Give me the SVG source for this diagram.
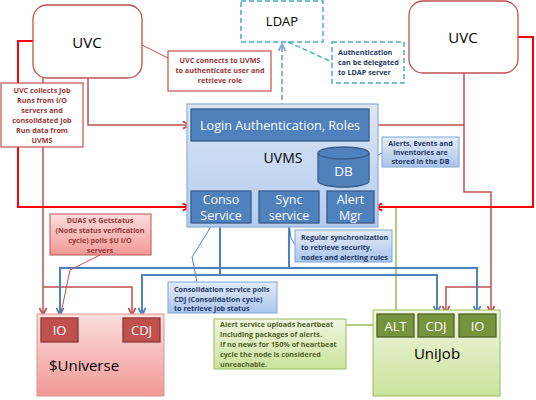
<svg xmlns="http://www.w3.org/2000/svg" width="536" height="400" viewBox="0 0 536 400">
<defs>
<linearGradient id="gUvms" x1="0" y1="0" x2="0" y2="1"><stop offset="0" stop-color="#dce6f4"/><stop offset="1" stop-color="#b3cbee"/></linearGradient>
<linearGradient id="gBlueNote" x1="0" y1="0" x2="0" y2="1"><stop offset="0" stop-color="#e3ecf8"/><stop offset="1" stop-color="#a9c4ec"/></linearGradient>
<linearGradient id="gPink" x1="0" y1="0" x2="0" y2="1"><stop offset="0" stop-color="#fbdedd"/><stop offset="1" stop-color="#f29896"/></linearGradient>
<linearGradient id="gGreen" x1="0" y1="0" x2="0" y2="1"><stop offset="0" stop-color="#f0f6e2"/><stop offset="1" stop-color="#cbe39b"/></linearGradient>
<marker id="aBright" viewBox="0 0 10 10" refX="9" refY="5" markerWidth="9" markerHeight="9" orient="auto" markerUnits="userSpaceOnUse"><path d="M1,1 L9,5 L1,9" fill="none" stroke="#ff0000" stroke-width="2"/></marker>
<marker id="aRed2" viewBox="0 0 10 10" refX="9" refY="5" markerWidth="9" markerHeight="9" orient="auto" markerUnits="userSpaceOnUse"><path d="M1,1 L9,5 L1,9" fill="none" stroke="#c0504d" stroke-width="2"/></marker>
<marker id="aBlue" viewBox="0 0 10 10" refX="9" refY="5" markerWidth="9" markerHeight="9" orient="auto" markerUnits="userSpaceOnUse"><path d="M1,1 L9,5 L1,9" fill="none" stroke="#4f81bd" stroke-width="2"/></marker>
<marker id="aDash" viewBox="0 0 10 10" refX="9" refY="5" markerWidth="9" markerHeight="9" orient="auto" markerUnits="userSpaceOnUse"><path d="M1,1 L9,5 L1,9" fill="none" stroke="#7ea6d8" stroke-width="2"/></marker>
</defs>
<style>
text{font-family:"Open Sans","Liberation Sans",sans-serif}
.uvc{fill:#fff;stroke:#c0504d;stroke-width:1.3}
.big{font-size:15px;fill:#000;text-anchor:middle}
.svc{fill:#4f81bd;stroke:#385d8a;stroke-width:1.3}
.svt{font-size:13.5px;fill:#fff;text-anchor:middle}
.sv2{font-size:12.5px;fill:#fff;text-anchor:middle}
.redNote{fill:#fff;stroke:#c0504d;stroke-width:1.2}
.rnt{font-size:7.2px;font-weight:bold;fill:#953735;text-anchor:middle}
.bnote{fill:url(#gBlueNote);stroke:#7ea6d8;stroke-width:1}
.bnt{font-size:7.2px;font-weight:bold;fill:#1f3864}
.gnt{font-size:7.2px;font-weight:bold;fill:#4f6228}
.conRed{fill:none;stroke:#c0504d;stroke-width:1.5}
.conBright{fill:none;stroke:#ff0000;stroke-width:2}
.conBlue{fill:none;stroke:#4f81bd;stroke-width:2}
.conGreen{fill:none;stroke:#9bbb59;stroke-width:1.5}
.thinBlue{fill:none;stroke:#4f81bd;stroke-width:1}
.thinRed{fill:none;stroke:#c0504d;stroke-width:1}
.dash{fill:none;stroke:#4bacc6;stroke-width:1.5;stroke-dasharray:5,3}
.ubox{fill:#c0504d;stroke:#8c3836;stroke-width:1.3}
.jbox{fill:#77933c;stroke:#4f6228;stroke-width:1.3}
.boxt{font-size:13px;fill:#fff;text-anchor:middle}
</style>

<g id="connectors">
  <path class="conRed" d="M88,78 V125 H190" marker-end="url(#aRed2)"/>
  <path class="conRed" d="M464,73 V125 H370" marker-end="url(#aRed2)"/>
  <path class="conRed" d="M464,125 V192 H491 V313" marker-end="url(#aRed2)"/>
  <path class="conRed" d="M491,287 H446 V313" marker-end="url(#aRed2)"/>
  <path class="conRed" d="M43,78 V315" marker-end="url(#aRed2)"/>
  <path class="conRed" d="M43,287 H132 V315" marker-end="url(#aRed2)"/>
  <path class="conBright" d="M33,41 H18 V207 H190" marker-end="url(#aBright)"/>
  <path class="conBright" d="M518,37 H533 V207 H375" marker-end="url(#aBright)"/>
  <path class="conGreen" d="M396,208 V314"/>
  <path class="conGreen" d="M346,325 H377"/>
  <path class="conBlue" d="M289,223 V268 H60 V315" marker-end="url(#aBlue)"/>
  <path class="conBlue" d="M289,268 H477 V313" marker-end="url(#aBlue)"/>
  <path class="conBlue" d="M220,223 V275 H142 V315" marker-end="url(#aBlue)"/>
  <path class="conBlue" d="M220,275 H437 V313" marker-end="url(#aBlue)"/>
  <path fill="none" stroke="#7ea6d8" stroke-width="1.8" stroke-dasharray="5,3" d="M282,108 V44" marker-end="url(#aDash)"/>
  <path class="dash" d="M288,42 L332,62"/>
  <path class="thinRed" d="M142,45 L168,58"/>
  <path class="thinRed" d="M100,255 L70,270 L61,313"/>
  <path class="thinBlue" d="M212,225 L192,257 L197,282"/>
  <path class="thinBlue" d="M289,223 L291,238 L295,245"/>
  <path class="thinBlue" d="M369,160 L382,153"/>
</g>

<g id="uvc-left">
  <rect class="uvc" x="33" y="5" width="109" height="73" rx="14"/>
  <text class="big" x="87" y="48">UVC</text>
</g>
<g id="uvc-right">
  <rect class="uvc" x="409" y="1" width="109" height="72" rx="14"/>
  <text class="big" x="463" y="43">UVC</text>
</g>
<g id="ldap">
  <rect class="dash" x="241" y="1" width="82" height="41"/>
  <text x="282" y="26" font-size="13" text-anchor="middle" fill="#000">LDAP</text>
</g>
<g id="note-ldap">
  <rect class="dash" x="332" y="42" width="72" height="41"/>
  <text class="bnt" x="338" y="55">Authentication</text>
  <text class="bnt" x="338" y="65">can be delegated</text>
  <text class="bnt" x="338" y="75">to LDAP server</text>
</g>
<g id="note-uvc-connects">
  <rect class="redNote" x="168" y="51" width="103" height="40"/>
  <text class="rnt" x="220" y="63">UVC connects to UVMS</text>
  <text class="rnt" x="220" y="73">to authenticate user and</text>
  <text class="rnt" x="220" y="83">retrieve role</text>
</g>
<g id="note-uvc-collects">
  <rect class="redNote" x="1" y="83" width="82" height="64"/>
  <text class="rnt" x="42" y="93">UVC collects Job</text>
  <text class="rnt" x="42" y="103">Runs from  I/O</text>
  <text class="rnt" x="42" y="113">servers and</text>
  <text class="rnt" x="42" y="123">consolidated Job</text>
  <text class="rnt" x="42" y="133">Run data from</text>
  <text class="rnt" x="42" y="143">UVMS</text>
</g>

<g id="uvms">
  <rect x="187" y="104" width="191" height="123" fill="url(#gUvms)" stroke="#95b3d7" stroke-width="1.3"/>
  <text x="283" y="163" font-size="14" text-anchor="middle" fill="#000">UVMS</text>
</g>
<g id="login">
  <rect class="svc" x="191" y="109" width="178" height="32"/>
  <text class="svt" x="280" y="130" font-size="14" textLength="160" lengthAdjust="spacingAndGlyphs">Login Authentication, Roles</text>
</g>
<g id="db">
  <path d="M318,153 V181 A25.5,6 0 0 0 369,181 V153" fill="#4f81bd" stroke="#385d8a" stroke-width="1.3"/>
  <ellipse cx="343.5" cy="153" rx="25.5" ry="6" fill="#4f81bd" stroke="#385d8a" stroke-width="1.3"/>
  <text class="svt" x="343.5" y="176">DB</text>
</g>
<g id="conso">
  <rect class="svc" x="191" y="191" width="60" height="32"/>
  <text class="sv2" x="221" y="204">Conso</text>
  <text class="sv2" x="221" y="219.5">Service</text>
</g>
<g id="sync">
  <rect class="svc" x="259" y="191" width="60" height="32"/>
  <text class="sv2" x="289" y="204">Sync</text>
  <text class="sv2" x="289" y="219.5">service</text>
</g>
<g id="alert">
  <rect class="svc" x="327" y="191" width="47" height="32"/>
  <text class="sv2" x="350.5" y="204">Alert</text>
  <text class="sv2" x="350.5" y="219.5">Mgr</text>
</g>
<g id="note-db">
  <rect class="bnote" x="382" y="137" width="77" height="30"/>
  <text class="bnt" x="420.5" y="146" text-anchor="middle">Alerts, Events and</text>
  <text class="bnt" x="420.5" y="155" text-anchor="middle">Inventories are</text>
  <text class="bnt" x="420.5" y="164" text-anchor="middle">stored in the DB</text>
</g>
<g id="note-sync">
  <rect class="bnote" x="295" y="230" width="97" height="32"/>
  <text class="bnt" x="301" y="239.5">Regular synchronization</text>
  <text class="bnt" x="301" y="249.5">to retrieve security,</text>
  <text class="bnt" x="301" y="259.5">nodes and alerting rules</text>
</g>
<g id="note-duas">
  <rect x="50" y="214" width="101" height="41" fill="url(#gPink)" stroke="#c0504d" stroke-width="1"/>
  <text class="rnt" x="100" y="222.5">DUAS v5 Getstatus</text>
  <text class="rnt" x="100" y="232.5">(Node status verification</text>
  <text class="rnt" x="100" y="242.5">cycle) polls $U I/O</text>
  <text class="rnt" x="100" y="252.5">servers</text>
</g>
<g id="note-conso">
  <rect class="bnote" x="168" y="282" width="109" height="31"/>
  <text class="bnt" x="174" y="291.5">Consolidation service polls</text>
  <text class="bnt" x="174" y="301.5">CDJ  (Consolidation cycle)</text>
  <text class="bnt" x="174" y="311">to retrieve job status</text>
</g>
<g id="note-alert">
  <rect x="214" y="319" width="132" height="50" fill="url(#gGreen)" stroke="#9bbb59" stroke-width="1"/>
  <text class="gnt" x="220" y="327">Alert service uploads heartbeat</text>
  <text class="gnt" x="220" y="337">including  packages of alerts.</text>
  <text class="gnt" x="220" y="347">If no news for 150% of heartbeat</text>
  <text class="gnt" x="220" y="357">cycle  the node is considered</text>
  <text class="gnt" x="220" y="367">unreachable.</text>
</g>

<g id="universe">
  <rect x="37" y="314" width="127" height="82" fill="url(#gPink)" stroke="#d99694" stroke-width="1"/>
  <text class="big" x="84" y="371">$Universe</text>
</g>
<g id="u-io">
  <rect class="ubox" x="41" y="318" width="37" height="24"/>
  <text class="boxt" x="59.5" y="335">IO</text>
</g>
<g id="u-cdj">
  <rect class="ubox" x="123" y="318" width="37" height="24"/>
  <text class="boxt" x="141.5" y="335">CDJ</text>
</g>
<g id="unijob">
  <rect x="373" y="310" width="127" height="86" fill="url(#gGreen)" stroke="#9bbb59" stroke-width="1"/>
  <text class="big" x="437" y="359">UniJob</text>
</g>
<g id="j-alt">
  <rect class="jbox" x="377" y="314" width="37" height="23"/>
  <text class="boxt" x="395.5" y="330.5">ALT</text>
</g>
<g id="j-cdj">
  <rect class="jbox" x="418" y="314" width="36" height="23"/>
  <text class="boxt" x="436" y="330.5">CDJ</text>
</g>
<g id="j-io">
  <rect class="jbox" x="459" y="314" width="37" height="23"/>
  <text class="boxt" x="477.5" y="330.5">IO</text>
</g>
</svg>
